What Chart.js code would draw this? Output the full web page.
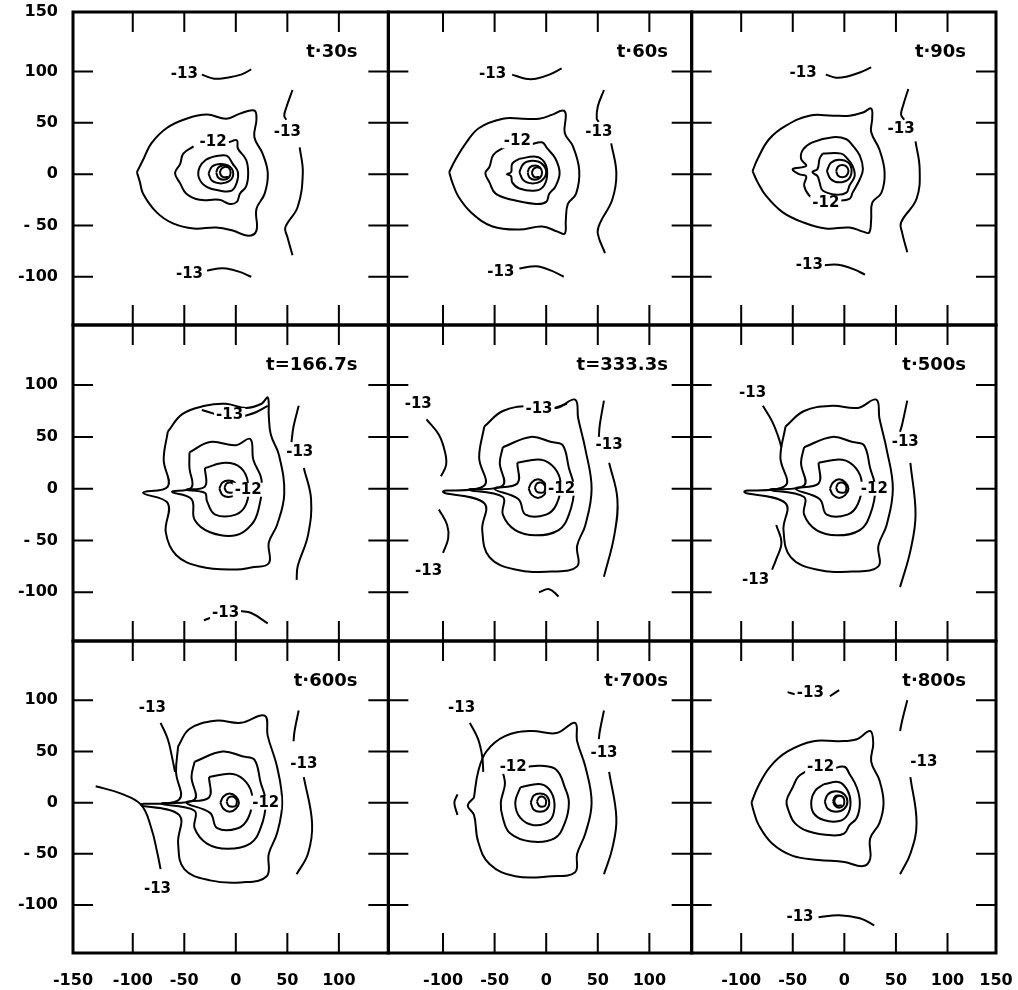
<!DOCTYPE html>
<html>
<head>
<meta charset="utf-8">
<script src="https://cdn.jsdelivr.net/npm/chart.js@4.4.1/dist/chart.umd.min.js"></script>
<style>
  html, body { margin: 0; padding: 0; background: #fff; }
  #wrap { width: 1018px; height: 990px; }
</style>
</head>
<body>
<div id="wrap"><canvas id="contours" width="1018" height="990"></canvas></div>
<script>
// tick values / labels
const xTicks = [-100, -50, 0, 50, 100];
const xTickText = ['-100', '-50', '0', '50', '100'];
const yTicks = [100, 50, 0, -50, -100];
const yTickText = ['100', '50', '0', '- 50', '-100'];
const xRanges = [[-158, 148], [-153, 141], [-148, 147]];
const yRanges = [[-147, 158], [-147, 158], [-147, 158]];
const colWeights = [315, 303, 304];
const rowWeights = [313, 316, 312];
const times = ['t·30s', 't·60s', 't·90s', 't=166.7s', 't=333.3s', 't·500s', 't·600s', 't·700s', 't·800s'];

// contour lines, one array per panel (x, y in same units as axes)
const c30 = [
  [[-96,2],[-90,14],[-82,30],[-67,45],[-48,54],[-28,58],[-9,54],[4,59],[18,62],[20,53],[18,36],[26,20],[31,1],[28,-19],[20,-34],[20,-55],[12,-60],[-3,-55],[-19,-52],[-41,-53],[-61,-48],[-77,-37],[-90,-19],[-93,-8],[-96,2]],
  [[-7,31],[1,33],[2,25],[10,14],[12,1],[10,-12],[4,-19],[1,-27],[-6,-29],[-16,-25],[-35,-25],[-48,-19],[-54,-9],[-59,1],[-54,10],[-51,20],[-41,27]],
  [[-22,17],[-9,18],[-3,10],[2,2],[1,-8],[-4,-16],[-16,-16],[-29,-12],[-36,-3],[-35,7],[-29,14],[-22,17]],
  [[-26.5,0.5],[-23,7.5],[-14.5,10],[-6,7.5],[-2.5,0.5],[-6,-6.5],[-14.5,-9],[-23,-6.5],[-26.5,0.5]],
  [[-19,1.5],[-17,6.5],[-12,8.5],[-7,6.5],[-5,1.5],[-7,-3.5],[-12,-5.5],[-17,-3.5],[-19,1.5]],
  [[-7,6.5],[-11,7],[-14.5,4.5],[-15,0],[-12,-3],[-7.5,-2.5]],
  [[-33,97],[-21,93],[-9,94],[5,97],[15,102]],
  [[-28,-94],[-17,-92],[-9,-92],[3,-95],[15,-100]],
  [[55,82],[49,65],[47,57],[49,53]],
  [[62,26],[65,1],[60,-32],[48,-52],[50,-61],[55,-79]]
];
const c60 = [
  [[-94,2],[-88,14],[-78,30],[-65,45],[-42,54],[-23,54],[-7,54],[6,58],[16,62],[19,58],[18,40],[26,27],[32,4],[29,-19],[21,-29],[19,-45],[18,-58],[11,-56],[-4,-51],[-26,-54],[-52,-51],[-72,-38],[-85,-22],[-91,-8],[-94,2]],
  [[-15,29],[-4,31],[1,25],[9,15],[13,1],[9,-12],[3,-19],[0,-27],[-10,-29],[-33,-25],[-49,-19],[-55,-8],[-59,1],[-55,7],[-51,19],[-39,27]],
  [[-26,15],[-10,17],[-2,12],[1,1],[-2,-11],[-10,-16],[-26,-14],[-33,-8],[-34,-2],[-38,0],[-34,2],[-33,10],[-26,15]],
  [[-26,2],[-22,10],[-13,13],[-4,10],[0,2],[-4,-6],[-13,-9],[-22,-6],[-26,2]],
  [[-18,1.5],[-16,6.5],[-11,8.5],[-6,6.5],[-4,1.5],[-6,-3.5],[-11,-5.5],[-16,-3.5],[-18,1.5]],
  [[-6,6],[-10,6.5],[-13,4],[-13.5,0],[-11,-3],[-6.5,-2.5]],
  [[-33,97],[-20,93],[-10,93],[3,97],[15,103]],
  [[-26,-92],[-15,-90],[-7,-90],[5,-94],[17,-100]],
  [[56,82],[50,66],[49,54],[51,51]],
  [[63,30],[68,1],[64,-25],[52,-48],[50,-58],[57,-77]]
];
const c90 = [
  [[-89,3],[-84,15],[-73,34],[-57,47],[-34,57],[-11,57],[5,57],[18,60],[26,64],[27,54],[26,41],[34,24],[39,2],[36,-18],[27,-28],[26,-44],[24,-57],[18,-56],[5,-52],[-18,-53],[-40,-47],[-60,-37],[-76,-21],[-84,-8],[-89,3]],
  [[-8,-26],[5,-24],[8,-18],[15,-5],[18,5],[15,18],[8,28],[2,34],[-11,36],[-31,31],[-40,24],[-42,15],[-37,8],[-50,5],[-44,0],[-37,-2],[-39,-11],[-34,-21],[-26,-26]],
  [[-21,20],[-3,20],[3,15],[8,8],[10,-2],[5,-11],[2,-18],[-8,-20],[-21,-16],[-24,-8],[-26,-2],[-31,2],[-26,5],[-24,15],[-21,20]],
  [[-17,3],[-13,11],[-5,14],[4,11],[7,3],[4,-5],[-5,-8],[-13,-5],[-17,3]],
  [[-8,3],[-6,7.5],[-2,9],[2,7.5],[4,3],[2,-1.5],[-2,-3],[-6,-1.5],[-8,3]],
  [[-18,97],[-8,94],[2,95],[15,99],[26,104]],
  [[-21,-89],[-10,-88],[-2,-89],[10,-93],[20,-98]],
  [[62,83],[57,67],[55,58],[58,53]],
  [[69,32],[73,5],[70,-24],[55,-47],[56,-57],[61,-76]]
];
const c167 = [
  [[-66,55],[-52,72],[-30,80],[-10,82],[10,78],[25,82],[31,88],[32,70],[34,52],[42,32],[47,-5],[40,-35],[32,-52],[32,-72],[15,-76],[0,-78],[-35,-75],[-58,-64],[-68,-42],[-66,-14],[-90,-4],[-66,2],[-70,28],[-66,55]],
  [[-45,35],[-25,45],[0,42],[14,48],[17,28],[25,8],[22,-20],[15,-35],[0,-45],[-25,-42],[-40,-30],[-43,-10],[-62,-3],[-43,1],[-45,20],[-45,35]],
  [[-30,20],[-10,25],[5,20],[12,5],[10,-15],[0,-25],[-20,-25],[-28,-12],[-30,-4],[-48,-1],[-30,2],[-30,20]],
  [[-16,0],[-13,6],[-7,8],[-1,6],[1,0],[-1,-6],[-7,-8],[-13,-6],[-16,0]],
  [[-11,1],[-9,5],[-5,6],[-2,4],[-1,1],[-2,-3],[-5,-4],[-9,-3],[-11,1]],
  [[-33,76],[-20,72]],
  [[8,70],[20,74],[31,80]],
  [[-31,-127],[-23,-124]],
  [[4,-118],[15,-120],[31,-130]],
  [[61,80],[56,60],[54,45]],
  [[66,20],[73,-10],[70,-45],[60,-75],[59,-88]]
];
const c333 = [
  [[-60,60],[-42,75],[-15,80],[10,78],[28,86],[31,68],[38,38],[44,0],[38,-35],[30,-55],[30,-75],[5,-80],[-30,-78],[-55,-66],[-62,-40],[-60,-14],[-100,-3],[-60,3],[-65,30],[-60,60]],
  [[-42,40],[-15,50],[5,45],[16,42],[22,20],[27,0],[22,-25],[12,-40],[-10,-45],[-30,-40],[-42,-25],[-42,-8],[-75,-1],[-42,3],[-45,25],[-42,40]],
  [[-28,25],[-5,28],[8,20],[14,5],[10,-15],[0,-25],[-20,-25],[-27,-10],[-50,0],[-28,5],[-28,25]],
  [[-17,0],[-14,6],[-8,9],[-2,6],[1,0],[-2,-6],[-8,-9],[-14,-6],[-17,0]],
  [[-11,1],[-9,5],[-5,6],[-2,4],[-1,1],[-2,-3],[-5,-4],[-9,-3],[-11,1]],
  [[5,77],[20,82]],
  [[-7,-100],[3,-97],[12,-104]],
  [[-116,67],[-104,52],[-98,35],[-97,23],[-102,12]],
  [[-104,-20],[-96,-35],[-95,-48],[-100,-62]],
  [[56,85],[52,62],[51,50]],
  [[61,25],[69,-10],[66,-45],[56,-85]]
];
const c500 = [
  [[-57,60],[-39,75],[-12,80],[13,78],[31,86],[34,68],[41,38],[47,0],[41,-35],[33,-55],[33,-75],[8,-80],[-27,-78],[-52,-66],[-59,-40],[-57,-14],[-97,-3],[-57,3],[-62,30],[-57,60]],
  [[-39,40],[-12,50],[8,45],[19,42],[25,20],[30,0],[25,-25],[15,-40],[-7,-45],[-27,-40],[-39,-25],[-39,-8],[-72,-1],[-39,3],[-42,25],[-39,40]],
  [[-25,25],[-2,28],[11,20],[17,5],[13,-15],[3,-25],[-17,-25],[-24,-10],[-47,0],[-25,5],[-25,25]],
  [[-14,0],[-11,6],[-5,9],[1,6],[4,0],[1,-6],[-5,-9],[-11,-6],[-14,0]],
  [[-8,1],[-6,5],[-2,6],[1,4],[2,1],[1,-3],[-2,-4],[-6,-3],[-8,1]],
  [[-79,80],[-70,65],[-64,50],[-61,40]],
  [[-66,-35],[-61,-52],[-66,-68],[-70,-78]],
  [[61,85],[56,62],[54,55]],
  [[64,25],[69,-25],[64,-60],[54,-95]]
];
const c600 = [
  [[-56,55],[-45,72],[-20,80],[5,78],[28,85],[31,65],[40,35],[45,0],[40,-30],[32,-50],[30,-72],[5,-78],[-25,-76],[-50,-65],[-56,-40],[-55,-12],[-92,-2],[-55,3],[-58,30],[-56,55]],
  [[-40,40],[-13,50],[7,45],[18,42],[24,20],[29,0],[24,-25],[14,-40],[-8,-45],[-28,-40],[-40,-25],[-40,-8],[-72,-1],[-40,3],[-43,25],[-40,40]],
  [[-26,25],[-3,28],[10,20],[16,5],[12,-15],[2,-25],[-18,-25],[-25,-10],[-48,0],[-26,5],[-26,25]],
  [[-15,0],[-12,6],[-6,9],[0,6],[3,0],[0,-6],[-6,-9],[-12,-6],[-15,0]],
  [[-9,1],[-7,5],[-3,6],[0,4],[1,1],[0,-3],[-3,-4],[-7,-3],[-9,1]],
  [[-73,78],[-66,62],[-62,45],[-59,30]],
  [[-136,16],[-112,9],[-92,-2],[-82,-25],[-76,-50],[-73,-65]],
  [[61,90],[57,70],[56,60]],
  [[66,25],[74,-20],[70,-50],[59,-70]]
];
const c700 = [
  [[-70,5],[-66,30],[-58,50],[-40,65],[-15,70],[10,68],[28,78],[30,60],[38,35],[44,0],[38,-30],[30,-50],[28,-68],[5,-72],[-30,-72],[-55,-60],[-66,-38],[-70,-12],[-76,-3],[-70,5]],
  [[-20,35],[-5,36],[10,32],[18,15],[22,0],[18,-20],[8,-35],[-15,-38],[-35,-30],[-42,-15],[-44,0],[-40,18],[-42,30]],
  [[-25,15],[-5,18],[5,10],[8,-5],[3,-18],[-12,-22],[-25,-15],[-30,0],[-25,15]],
  [[-15,0],[-12,7],[-6,9],[0,7],[3,0],[0,-7],[-6,-9],[-12,-7],[-15,0]],
  [[-9,1],[-7,5],[-4,6],[-1,4],[0,1],[-1,-3],[-4,-4],[-7,-3],[-9,1]],
  [[-74,78],[-66,62],[-62,45],[-61,30]],
  [[-86,8],[-89,0],[-86,-12]],
  [[56,90],[52,70],[51,62]],
  [[61,30],[68,-15],[64,-45],[56,-70]]
];
const c800 = [
  [[-90,0],[-84,15],[-72,35],[-55,50],[-30,60],[-5,60],[12,62],[25,70],[28,58],[26,40],[34,22],[38,0],[34,-20],[25,-35],[25,-55],[18,-62],[0,-58],[-25,-56],[-50,-52],[-70,-40],[-83,-22],[-88,-8],[-90,0]],
  [[-12,33],[0,35],[5,28],[12,15],[15,0],[12,-15],[5,-22],[0,-30],[-12,-32],[-35,-28],[-48,-20],[-54,-8],[-56,2],[-50,15],[-45,25],[-35,32]],
  [[-20,18],[-5,20],[3,12],[6,0],[3,-12],[-5,-18],[-20,-17],[-30,-10],[-32,2],[-28,12],[-20,18]],
  [[-19,1],[-16,8],[-8,11],[0,8],[3,1],[0,-6],[-8,-9],[-16,-6],[-19,1]],
  [[-11,1],[-9,6],[-5,7],[-1,5],[0,1],[-1,-3],[-5,-5],[-9,-3],[-11,1]],
  [[-2,6],[-6,6.5],[-9,4],[-9.5,0],[-7,-3],[-2.5,-2.5]],
  [[-55,108],[-48,106]],
  [[-14,104],[-5,110]],
  [[-25,-112],[-5,-110],[15,-113],[29,-120]],
  [[61,100],[56,80],[54,70]],
  [[64,25],[70,-20],[64,-50],[54,-70]]
];
const panels = [c30, c60, c90, c167, c333, c500, c600, c700, c800];

// contour labels [x, y, text]
const l30 = [[-50,97,'-13'],[-45,-97,'-13'],[50,41,'-13'],[-22,31,'-12']];
const l60 = [[-52,97,'-13'],[-44,-95,'-13'],[51,41,'-13'],[-28,32,'-12']];
const l90 = [[-40,98,'-13'],[-34,-89,'-13'],[55,44,'-13'],[-18,-28,'-12']];
const l167 = [[-6,71,'-13'],[-10,-120,'-13'],[62,35,'-13'],[12,-1,'-12']];
const l333 = [[-7,77,'-13'],[-124,82,'-13'],[-114,-80,'-13'],[61,42,'-13'],[15,0,'-12']];
const l500 = [[-89,92,'-13'],[-86,-88,'-13'],[59,45,'-13'],[29,0,'-12']];
const l600 = [[-81,92,'-13'],[-76,-85,'-13'],[66,38,'-13'],[29,0,'-12']];
const l700 = [[-82,92,'-13'],[56,48,'-13'],[-32,35,'-12']];
const l800 = [[-33,107,'-13'],[-43,-112,'-13'],[77,40,'-13'],[-23,35,'-12']];
const contourLabels = [l30, l60, l90, l167, l333, l500, l600, l700, l800];

const FONT = 'DejaVu Sans';

// stacked y axes are laid out bottom-up, so the top row uses the last id
const rowAxis = r => 'y' + (2 - r);

const datasets = [];
panels.forEach(function(lines, k) {
    lines.forEach(function(line) {
        datasets.push({
            data: line.map(p => ({x: p[0], y: p[1]})),
            xAxisID: 'x' + (k % 3),
            yAxisID: rowAxis(Math.floor(k / 3)),
            showLine: true,
            borderColor: '#000',
            borderWidth: 2,
            pointRadius: 0,
            tension: 0.4,
            fill: false
        });
    });
});

// edge labels may hang over the frame, so drop the scales' own padding
const noPad = s => { s.paddingTop = 0; s.paddingBottom = 0; s.paddingLeft = 0; s.paddingRight = 0; };

const scales = {};
for (let c = 0; c < 3; c++) {
    const vals = xTicks.slice(), txt = xTickText.slice();
    if (c === 0) { vals.unshift(xRanges[c][0]); txt.unshift('-150'); }
    if (c === 2) { vals.push(xRanges[c][1]); txt.push('150'); }
    scales['x' + c] = {
        type: 'linear', position: 'bottom', stack: 'x', stackWeight: colWeights[c],
        min: xRanges[c][0], max: xRanges[c][1],
        grid: { display: false, drawTicks: false }, border: { display: false },
        afterBuildTicks: s => { s.ticks = vals.map(v => ({value: v})); },
        afterFit: s => { s.height = 37; noPad(s); },
        ticks: {
            autoSkip: false, maxRotation: 0, padding: 18, color: '#000',
            font: { family: FONT, size: 16, weight: 'bold' },
            callback: v => txt[vals.indexOf(v)]
        }
    };
}
for (let i = 0; i < 3; i++) {
    const r = 2 - i;
    const vals = yTicks.slice(), txt = yTickText.slice();
    if (r === 0) { vals.unshift(yRanges[r][1]); txt.unshift('150'); }
    scales[rowAxis(r)] = {
        type: 'linear', position: 'left', stack: 'y', stackWeight: rowWeights[r],
        min: yRanges[r][0], max: yRanges[r][1],
        grid: { display: false, drawTicks: false }, border: { display: false },
        afterBuildTicks: s => { s.ticks = vals.map(v => ({value: v})); },
        afterFit: s => { s.width = 73; noPad(s); },
        ticks: {
            autoSkip: false, padding: 15, color: '#000',
            font: { family: FONT, size: 16, weight: 'bold' },
            callback: v => txt[vals.indexOf(v)]
        }
    };
}

// frames, inward ticks, contour labels and panel times
const framePlugin = {
    id: 'frames',
    afterDatasetsDraw(chart) {
        const ctx = chart.ctx;
        ctx.save();
        ctx.strokeStyle = '#000';
        ctx.fillStyle = '#000';
        for (let k = 0; k < 9; k++) {
            const xs = chart.scales['x' + (k % 3)];
            const ys = chart.scales[rowAxis(Math.floor(k / 3))];
            const L = xs.left, R = xs.right, T = ys.top, B = ys.bottom;
            ctx.lineWidth = 2;
            ctx.beginPath();
            xTicks.forEach(v => {
                const px = xs.getPixelForValue(v);
                ctx.moveTo(px, T); ctx.lineTo(px, T + 20);
                ctx.moveTo(px, B); ctx.lineTo(px, B - 20);
            });
            yTicks.forEach(v => {
                const py = ys.getPixelForValue(v);
                ctx.moveTo(L, py); ctx.lineTo(L + 20, py);
                ctx.moveTo(R, py); ctx.lineTo(R - 20, py);
            });
            ctx.stroke();
            ctx.lineWidth = 3;
            ctx.strokeRect(L, T, R - L, B - T);

            ctx.font = 'bold 15px ' + FONT;
            ctx.textAlign = 'center';
            ctx.textBaseline = 'middle';
            contourLabels[k].forEach(l => {
                const px = xs.getPixelForValue(l[0]), py = ys.getPixelForValue(l[1]);
                const w = ctx.measureText(l[2]).width;
                ctx.fillStyle = '#fff';
                ctx.fillRect(px - w / 2 - 2, py - 7, w + 4, 14);
                ctx.fillStyle = '#000';
                ctx.fillText(l[2], px, py);
            });
            ctx.font = 'bold 18px ' + FONT;
            ctx.textAlign = 'right';
            ctx.fillText(times[k], xs.getPixelForValue(118), ys.getPixelForValue(119));
        }
        ctx.restore();
    }
};

new Chart(document.getElementById('contours').getContext('2d'), {
    type: 'scatter',
    data: { datasets: datasets },
    options: {
        responsive: false,
        animation: false,
        devicePixelRatio: 1,
        layout: { padding: { top: 12, right: 22, left: 0, bottom: 0 } },
        plugins: { legend: { display: false }, tooltip: { enabled: false } },
        scales: scales
    },
    plugins: [framePlugin]
});
</script>
</body>
</html>
